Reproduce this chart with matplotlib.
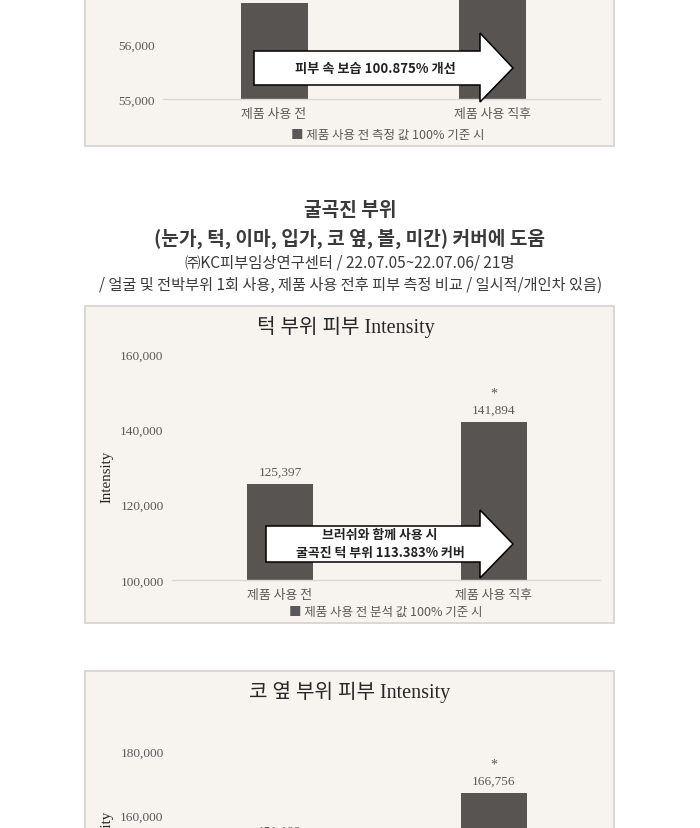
import matplotlib
matplotlib.use('Agg')
import matplotlib.pyplot as plt
from matplotlib.patches import Rectangle, Polygon

# ---------------- data ----------------
categories = ['제품 사용 전', '제품 사용 직후']
moist_values = [56745, 57241]
chin_values = [125397, 141894]
chin_labels = ['125,397', '141,894']
nose_values = [151199, 166756]
nose_labels = ['151,199', '166,756']
moist_ticks = [55000, 56000]
moist_tick_labels = ['55,000', '56,000']
chin_ticks = [100000, 120000, 140000, 160000]
chin_tick_labels = ['100,000', '120,000', '140,000', '160,000']
nose_ticks = [100000, 120000, 140000, 160000, 180000]
nose_tick_labels = ['100,000', '120,000', '140,000', '160,000', '180,000']

chin_title = '턱 부위 피부 Intensity'
nose_title = '코 옆 부위 피부 Intensity'
moist_arrow_text = '피부 속 보습 100.875% 개선'
chin_arrow_text = '브러쉬와 함께 사용 시\n굴곡진 턱 부위 113.383% 커버'
moist_legend = '■ 제품 사용 전 측정 값 100% 기준 시'
chin_legend = '■ 제품 사용 전 분석 값 100% 기준 시'
heading = ['굴곡진 부위', '(눈가, 턱, 이마, 입가, 코 옆, 볼, 미간) 커버에 도움']
subheading = ['㈜KC피부임상연구센터 / 22.07.05~22.07.06/ 21명',
              '/ 얼굴 및 전박부위 1회 사용, 제품 사용 전후 피부 측정 비교 / 일시적/개인차 있음)']

# ---------------- style ----------------
W, H = 700, 829
BG = '#f7f4ef'
EDGE = '#d8d6d1'
BAR = '#575451'
GRAY = '#595959'
SERIF = ['Liberation Serif', 'Noto Sans CJK KR']
SANS = ['Noto Sans CJK KR', 'DejaVu Sans']
CAT_FS = 9.3
LEG_FS = 9.0

fig = plt.figure(figsize=(7, 8.29), dpi=100)
fig.patch.set_facecolor('white')


def fx(x):
    return x / W


def fy(y):
    return 1 - y / H


def panel(ytop, ybot):
    r = Rectangle((fx(85), fy(ybot)), (614 - 85) / W, (ybot - ytop) / H,
                  transform=fig.transFigure, facecolor=BG, edgecolor=EDGE,
                  lw=1.3, zorder=-5)
    fig.add_artist(r)


def make_axes(x0, x1, ytop, ybot, values, ticks, tick_labels, ylim, c0, c1, width_px):
    ax = fig.add_axes([fx(x0), fy(ybot), (x1 - x0) / W, (ybot - ytop) / H])
    ax.set_facecolor('none')
    unit = c1 - c0
    ax.set_xlim(-(c0 - x0) / unit, 1 + (x1 - c1) / unit)
    ax.set_ylim(*ylim)
    ax.bar(range(len(values)), values, width=width_px / unit, color=BAR, zorder=2)
    for s in ['top', 'right', 'left']:
        ax.spines[s].set_visible(False)
    ax.spines['bottom'].set_color('#d9d9d9')
    ax.spines['bottom'].set_linewidth(1.0)
    ax.set_yticks(ticks)
    ax.set_yticklabels(tick_labels, family=SERIF, fontsize=9.6, color=GRAY)
    ax.set_xticks(range(len(categories)))
    ax.set_xticklabels(categories, family=SANS, fontsize=CAT_FS, color=GRAY)
    ax.tick_params(axis='y', length=0, pad=6)
    ax.tick_params(axis='x', length=0, pad=5.5)
    return ax


def arrow(xt, xh, xtip, yb0, yb1, yh0, yh1, ytip):
    pts = [(xt, yb0), (xh, yb0), (xh, yh0), (xtip, ytip), (xh, yh1), (xh, yb1), (xt, yb1)]
    pts = [(fx(x), fy(y)) for x, y in pts]
    p = Polygon(pts, closed=True, transform=fig.transFigure, facecolor='white',
                edgecolor='black', lw=1.1, zorder=5)
    fig.add_artist(p)


# ---------------- panel 1 (cut at top) ----------------
panel(-10, 147)
ax1 = make_axes(163, 600, -40, 100, moist_values, moist_ticks, moist_tick_labels,
                (55000, 55000 + 140 / 55 * 1000), 274, 492, 67)
arrow(254, 480, 513, 52, 86, 34, 103, 69)
fig.text(fx(375), fy(69), moist_arrow_text, family=SANS, fontsize=9.5,
         fontweight='bold', color='#222222', ha='center', va='center', zorder=6)
fig.text(fx(388), fy(135), moist_legend, family=SANS, fontsize=LEG_FS, color=GRAY,
         ha='center', va='center')

# ---------------- heading ----------------
fig.text(fx(350), fy(211), heading[0], family=SANS, fontsize=13.8, fontweight='bold',
         color='#3a3a3a', ha='center', va='center')
fig.text(fx(350), fy(239), heading[1], family=SANS, fontsize=13.8, fontweight='bold',
         color='#3a3a3a', ha='center', va='center')
fig.text(fx(350), fy(263), subheading[0], family=SANS, fontsize=11.1,
         color='#3a3a3a', ha='center', va='center')
fig.text(fx(351), fy(285), subheading[1], family=SANS, fontsize=10.95,
         color='#3a3a3a', ha='center', va='center')

# ---------------- panel 2 ----------------
panel(307, 624)
fig.text(fx(346), fy(327), chin_title, family=SERIF, fontsize=14.5, color='#262626',
         ha='center', va='center')
ax2 = make_axes(172, 600, 355, 581, chin_values, chin_ticks, chin_tick_labels,
                (100000, 160000), 280, 493.5, 66)
for i, (v, lab) in enumerate(zip(chin_values, chin_labels)):
    ax2.annotate(lab, xy=(i, v), xytext=(0, 9.2), textcoords='offset points',
                 ha='center', va='center', family=SERIF, fontsize=9.6, color=GRAY)
ax2.annotate('*', xy=(1, chin_values[1]), xytext=(0, 21), textcoords='offset points',
             ha='center', va='center', family=SERIF, fontsize=10, color=GRAY)
fig.text(fx(107), fy(477), 'Intensity', family=SERIF, fontsize=10.8, color='#262626',
         rotation=90, ha='center', va='center')
arrow(266, 480, 513, 527, 563, 511, 579, 545)
fig.text(fx(380), fy(544), chin_arrow_text, family=SANS, fontsize=9.3,
         fontweight='bold', color='#222222', ha='center', va='center',
         linespacing=1.35, zorder=6)
fig.text(fx(386), fy(612), chin_legend, family=SANS, fontsize=LEG_FS, color=GRAY,
         ha='center', va='center')

# ---------------- panel 3 (cut at bottom) ----------------
panel(672, 900)
fig.text(fx(350), fy(692), nose_title, family=SERIF, fontsize=14.5, color='#262626',
         ha='center', va='center')
ax3 = make_axes(172, 600, 752, 1008, nose_values, nose_ticks, nose_tick_labels,
                (100000, 180000), 280, 493.5, 66)
for i, (v, lab) in enumerate(zip(nose_values, nose_labels)):
    ax3.annotate(lab, xy=(i, v), xytext=(0, 9.2), textcoords='offset points',
                 ha='center', va='center', family=SERIF, fontsize=9.6, color=GRAY)
ax3.annotate('*', xy=(1, nose_values[1]), xytext=(0, 21), textcoords='offset points',
             ha='center', va='center', family=SERIF, fontsize=10, color=GRAY)
fig.text(fx(107), fy(837), 'Intensity', family=SERIF, fontsize=10.8, color='#262626',
         rotation=90, ha='center', va='center')

fig.savefig('out.png', dpi=100, facecolor='white')
